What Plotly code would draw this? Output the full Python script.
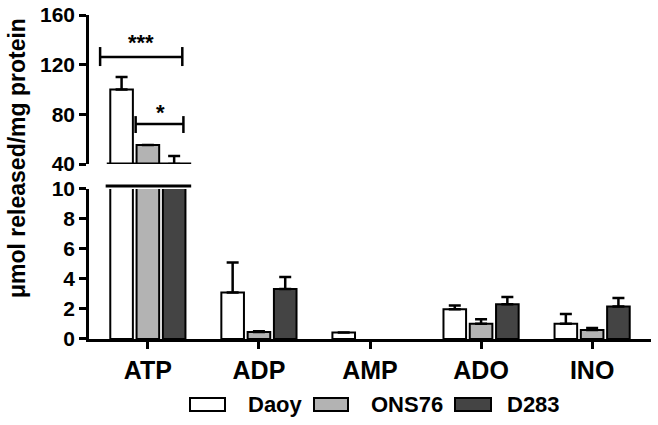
import plotly.graph_objects as go

categories = ["ATP", "ADP", "AMP", "ADO", "INO"]
series_names = ["Daoy", "ONS76", "D283"]
daoy = [100, 3.1, 0.43, 1.98, 1.02]
daoy_err = [10, 2.0, 0.0, 0.26, 0.65]
ons76 = [55.3, 0.47, None, 1.02, 0.6]
ons76_err = [0.0, 0.05, None, 0.29, 0.13]
d283 = [40, 3.33, None, 2.31, 2.16]
d283_err = [6.4, 0.8, None, 0.49, 0.57]
colors = ["#ffffff", "#b3b3b3", "#444444"]
top_ticks = [40, 80, 120, 160]
bottom_ticks = [0, 2, 4, 6, 8, 10]

FONT = "Arial, Liberation Sans, sans-serif"
W, H = 658, 425
ML, MR, MT, MB = 89, 7, 15, 86

fig = go.Figure()
vals = [daoy, ons76, d283]
errs = [daoy_err, ons76_err, d283_err]
for name, v, e, c in zip(series_names, vals, errs, colors):
    for xa, ya in (("x", "y"), ("x2", "y2")):
        fig.add_trace(go.Bar(
            x=categories, y=v, name=name, xaxis=xa, yaxis=ya,
            marker=dict(color=c, line=dict(color="black", width=2)),
            error_y=dict(type="data", array=e, arrayminus=[0] * len(e),
                         symmetric=False, color="black", thickness=2.5, width=6),
            showlegend=False,
        ))

ytick_font = dict(family=FONT, size=21, color="black", weight="bold")
fig.update_layout(
    width=W, height=H,
    margin=dict(l=ML, r=MR, t=MT, b=MB),
    paper_bgcolor="white", plot_bgcolor="white",
    barmode="group", bargap=0.29, bargroupgap=0.14,
    font=dict(family=FONT, color="black"),
    xaxis=dict(range=[-0.53, 4.53], anchor="y", showline=True, linecolor="black",
               linewidth=2.5, ticks="outside", ticklen=7, tickwidth=2.5,
               tickcolor="black", tickfont=dict(family=FONT, size=25, color="black", weight="bold"),
               showgrid=False, zeroline=False, automargin=False),
    xaxis2=dict(matches="x", anchor="y2", visible=False),
    yaxis=dict(domain=[0, 0.463], range=[0, 10], tickvals=bottom_ticks,
               showline=True, linecolor="black", linewidth=2.5, ticks="outside",
               ticklen=7, tickwidth=2.5, tickcolor="black", tickfont=ytick_font,
               showgrid=False, zeroline=False, automargin=False),
    yaxis2=dict(domain=[0.540, 1], range=[40, 160], tickvals=top_ticks,
                showline=True, linecolor="black", linewidth=2.5, ticks="outside",
                ticklen=7, tickwidth=2.5, tickcolor="black", anchor="x2",
                tickfont=ytick_font, showgrid=False, zeroline=False, automargin=False,
                ticklabeloverflow="allow"),
)

pw, ph = W - ML - MR, H - MT - MB
def px(xp):
    return (xp - ML) / pw
def py(yp):
    return 1 - (yp - MT) / ph

shapes = []
# axis break segments
shapes.append(dict(type="line", xref="x2", yref="y2", x0=-0.37, x1=0.39, y0=40, y1=40,
                   line=dict(color="black", width=3)))
shapes.append(dict(type="line", xref="x", yref="y domain", x0=-0.38, x1=0.39, y0=1.02, y1=1.02,
                   line=dict(color="black", width=3)))
# significance brackets
def bracket(x0, x1, y, ylo, yhi):
    shapes.append(dict(type="line", xref="x2", yref="y2", x0=x0, x1=x1, y0=y, y1=y,
                       line=dict(color="black", width=2.5)))
    for xx in (x0, x1):
        shapes.append(dict(type="line", xref="x2", yref="y2", x0=xx, x1=xx, y0=ylo, y1=yhi,
                           line=dict(color="black", width=2.5)))
bracket(-0.43, 0.31, 126.2, 118.9, 134.2)
bracket(-0.11, 0.32, 72.2, 65.0, 78.6)

annotations = [
    dict(text="***", xref="x2", yref="y2", x=-0.06, y=126.3, showarrow=False,
         yanchor="bottom", font=dict(family=FONT, size=22, color="black", weight="bold")),
    dict(text="*", xref="x2", yref="y2", x=0.11, y=69.5, showarrow=False,
         yanchor="bottom", font=dict(family=FONT, size=22, color="black", weight="bold")),
    dict(text="μmol released/mg protein", xref="paper", yref="paper",
         x=px(17), y=py(158),
         xanchor="center", yanchor="middle", textangle=-90, showarrow=False,
         font=dict(family=FONT, size=23, color="black", weight="bold")),
]

# manual legend
legend_boxes = [(190, 225, 246), (314, 348, 369), (455, 491, 505)]
for (bx0, bx1, tx), name, c in zip(legend_boxes, series_names, colors):
    shapes.append(dict(type="rect", xref="paper", yref="paper", x0=px(bx0), x1=px(bx1),
                       y0=py(411), y1=py(398), fillcolor=c, line=dict(color="black", width=2)))
    annotations.append(dict(text=name, xref="paper", yref="paper", x=px(tx), y=py(404.5),
                            xanchor="left", yanchor="middle", showarrow=False,
                            font=dict(family=FONT, size=22, color="black", weight="bold")))

fig.update_layout(shapes=shapes, annotations=annotations)
fig.write_html("out.html", post_script="document.body.style.margin='0';",
               config={"displayModeBar": False})
